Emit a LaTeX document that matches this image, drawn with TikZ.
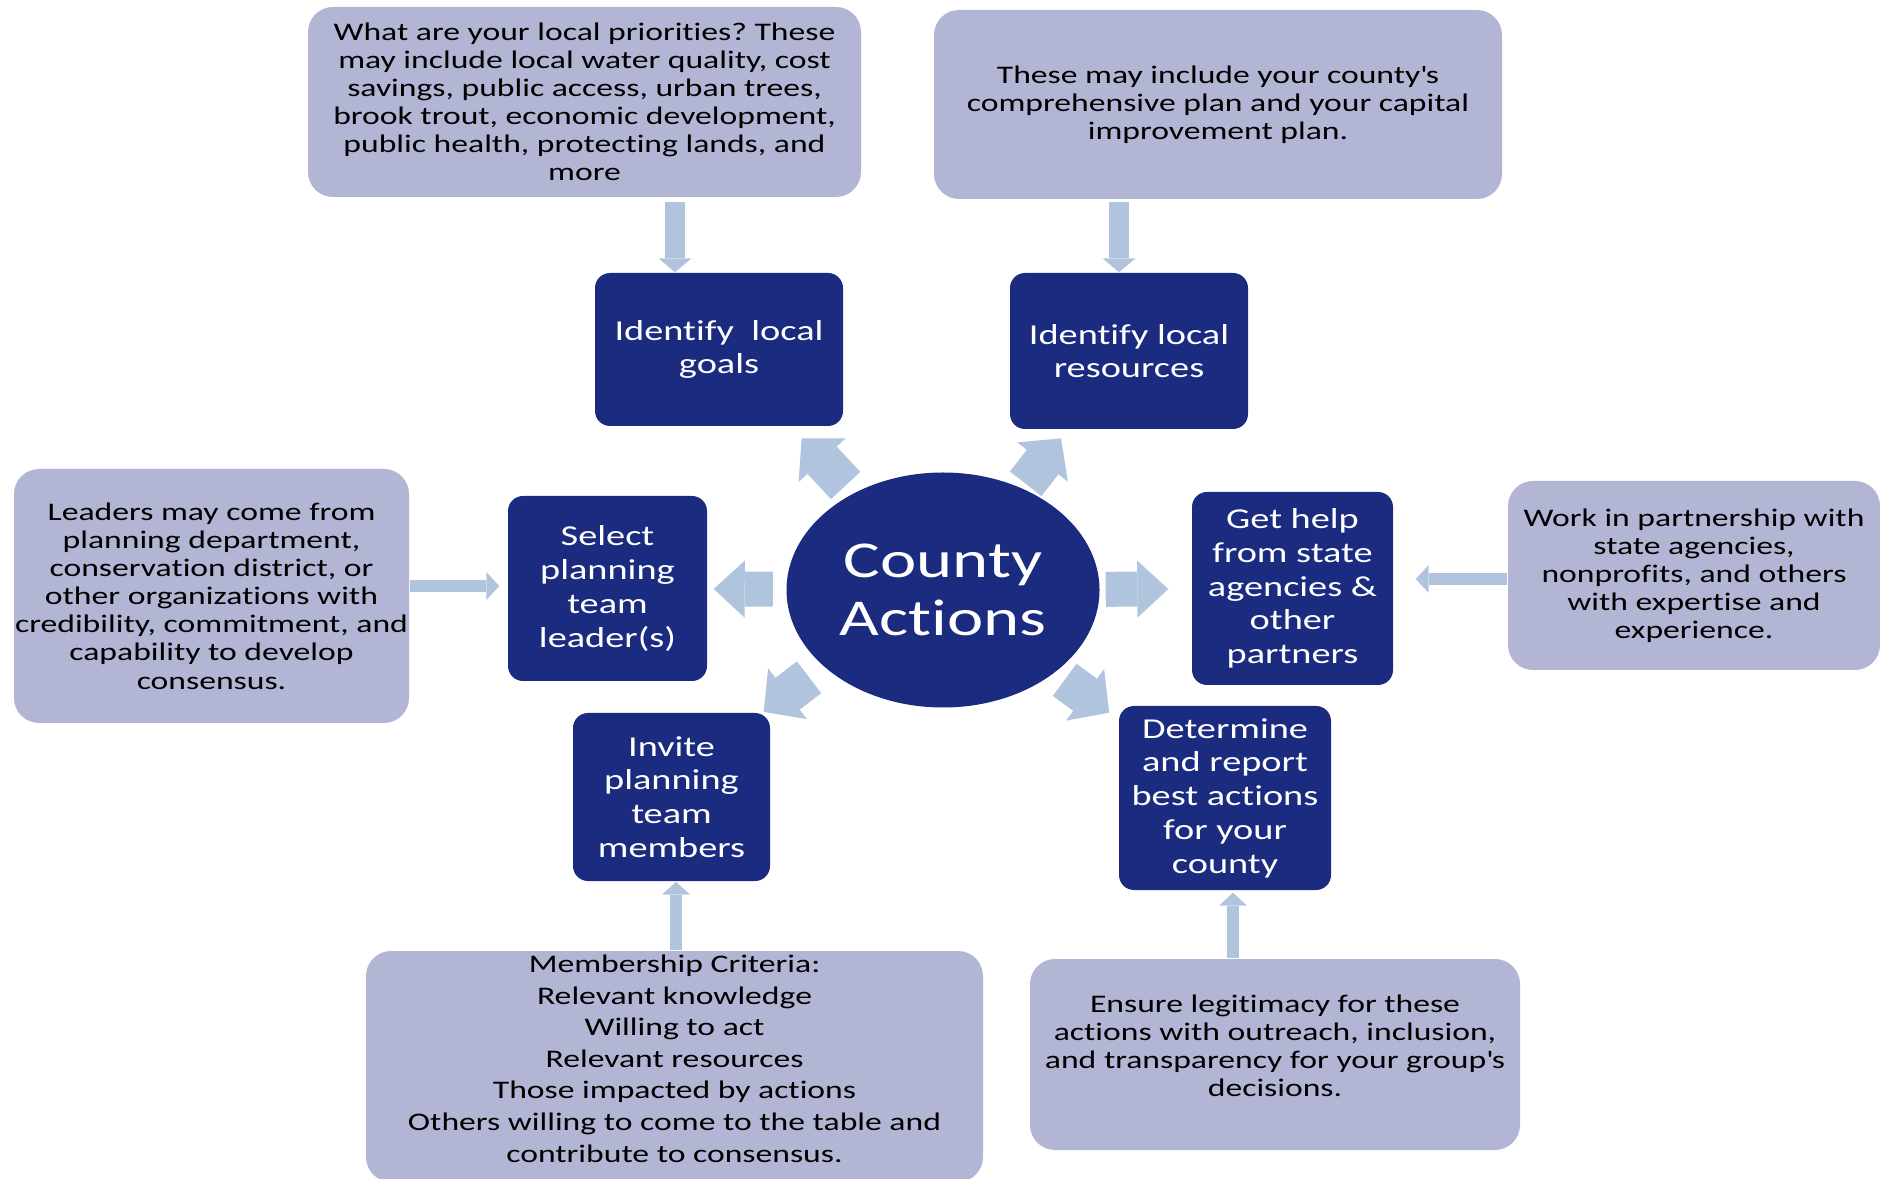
\documentclass[tikz,border=0pt]{standalone}
\usepackage{fontspec}
\setmainfont{Carlito}[FakeStretch=1.33, Ligatures=NoCommon]
\usepackage{tikz}
\usetikzlibrary{arrows.meta, shapes.geometric}
\definecolor{navy_base}{RGB}{27,43,128}
\definecolor{lavender_base}{RGB}{178,182,212}
\definecolor{steel_base}{RGB}{176,196,222}
\colorlet{action_fill}{navy_base}
\colorlet{note_fill}{lavender_base}
\colorlet{flow_arrow}{steel_base}
\frenchspacing

\begin{document}
\begin{tikzpicture}[
    action-box/.style={fill=action_fill, text=white, rounded corners=0.15cm, align=center, inner sep=0pt, font=\fontsize{8.2}{9.6}\selectfont},
    note-box/.style={fill=note_fill, text=black, rounded corners=0.25cm, align=center, inner sep=0pt, font=\fontsize{7.2}{8}\selectfont},
    hub/.style={ellipse, fill=action_fill, text=white, align=center, inner sep=0pt, minimum width=3.13cm, minimum height=2.35cm, font=\fontsize{14.7}{16.7}\selectfont},
    fat-arrow/.style={draw=flow_arrow, line width=0.35cm, -{Triangle[width=0.57cm, length=0.31cm, line width=0pt]}},
    diag-arrow/.style={draw=flow_arrow, line width=0.40cm, -{Triangle[width=0.64cm, length=0.30cm, line width=0pt]}},
    top-feed-arrow/.style={draw=flow_arrow, line width=0.20cm, -{Triangle[width=0.33cm, length=0.14cm, line width=0pt]}},
    feed-arrow/.style={draw=flow_arrow, line width=0.12cm, -{Triangle[width=0.28cm, length=0.13cm, line width=0pt]}},
  ]
  \useasboundingbox (0,0) rectangle (18.8,-11.79);

  %%%%%%%%%% Centre %%%%%%%%%%
  \node[hub] (county) at (9.43,-5.90) {County\\Actions};

  %%%%%%%%%% Action boxes %%%%%%%%%%
  \node[action-box, minimum width=2.48cm, minimum height=1.53cm] (goals) at (7.19,-3.495) {Identify~ local\\goals};
  \node[action-box, minimum width=2.38cm, minimum height=1.56cm] (resources) at (11.29,-3.51) {Identify local\\resources};
  \node[action-box, minimum width=1.99cm, minimum height=1.85cm] (leader) at (6.075,-5.885) {Select\\planning\\team\\leader(s)};
  \node[action-box, minimum width=2.01cm, minimum height=1.93cm] (help) at (12.925,-5.885) {Get help\\from state\\agencies \&\\other\\partners};
  \node[action-box, minimum width=1.97cm, minimum height=1.68cm] (invite) at (6.715,-7.97) {Invite\\planning\\team\\members};
  \node[action-box, minimum width=2.12cm, minimum height=1.84cm] (determine) at (12.25,-7.98) {Determine\\and report\\best actions\\for your\\county};

  %%%%%%%%%% Note boxes %%%%%%%%%%
  \node[note-box, minimum width=5.53cm, minimum height=1.90cm] (priorities) at (5.845,-1.02) {What are your local priorities? These\\may include local water quality, cost\\savings, public access, urban trees,\\brook trout, economic development,\\public health, protecting lands, and\\more};
  \node[note-box, minimum width=5.68cm, minimum height=1.89cm] (plans) at (12.18,-1.045) {These may include your county\textquotesingle s\\comprehensive plan and your capital\\improvement plan.};
  \node[note-box, minimum width=3.95cm, minimum height=2.54cm] (leaders) at (2.115,-5.96) {Leaders may come from\\planning department,\\conservation district, or\\other organizations with\\credibility, commitment, and\\capability to develop\\consensus.};
  \node[note-box, minimum width=3.72cm, minimum height=1.89cm] (partners) at (16.94,-5.755) {Work in partnership with\\state agencies,\\nonprofits, and others\\with expertise and\\experience.};
  \node[note-box, minimum width=6.17cm, minimum height=2.31cm, text depth=0.16cm, font=\fontsize{7.2}{9}\selectfont] (criteria) at (6.745,-10.665) {Membership Criteria:\\Relevant knowledge\\Willing to act\\Relevant resources\\Those impacted by actions\\Others willing to come to the table and\\contribute to consensus.};
  \node[note-box, minimum width=4.90cm, minimum height=1.91cm, text depth=0.18cm] (ensure) at (12.75,-10.545) {Ensure legitimacy for these\\actions with outreach, inclusion,\\and transparency for your group\textquotesingle s\\decisions.};

  %%%%%%%%%% Arrows out of the centre %%%%%%%%%%
  \foreach \target/\tail/\head in {help/0.055/0.23, leader/0.13/0.06} {
    \draw[fat-arrow, shorten <=\tail cm, shorten >=\head cm] (county) -- (\target);
  }
  \foreach \target/\tail/\head in {goals/0.105/0.158, resources/0.053/0.11, determine/0.118/0.113} {
    \draw[diag-arrow, shorten <=\tail cm, shorten >=\head cm] (county) -- (\target);
  }
  \draw[diag-arrow, shorten <=0.208cm, transform canvas={shift={(-0.07,0.095)}}] (county) -- (invite);

  %%%%%%%%%% Arrows from the notes %%%%%%%%%%
  \coordinate (goals-in) at ([xshift=-0.44cm]goals.north);
  \coordinate (resources-in) at ([xshift=-0.10cm]resources.north);
  \coordinate (leader-in) at ([xshift=-0.08cm, yshift=0.025cm]leader.west);
  \coordinate (help-in) at ([xshift=0.22cm, yshift=0.095cm]help.east);
  \coordinate (invite-in) at ([xshift=0.045cm]invite.south);
  \coordinate (determine-in) at ([xshift=0.08cm, yshift=-0.02cm]determine.south);

  \draw[top-feed-arrow, shorten <=0.04cm] (priorities.south -| goals-in) -- (goals-in);
  \draw[top-feed-arrow, shorten <=0.02cm] (plans.south -| resources-in) -- (resources-in);
  \draw[feed-arrow] (leaders.east |- leader-in) -- (leader-in);
  \draw[feed-arrow] (partners.west |- help-in) -- (help-in);
  \draw[feed-arrow] (criteria.north -| invite-in) -- (invite-in);
  \draw[feed-arrow] (ensure.north -| determine-in) -- (determine-in);

\end{tikzpicture}
\end{document}
